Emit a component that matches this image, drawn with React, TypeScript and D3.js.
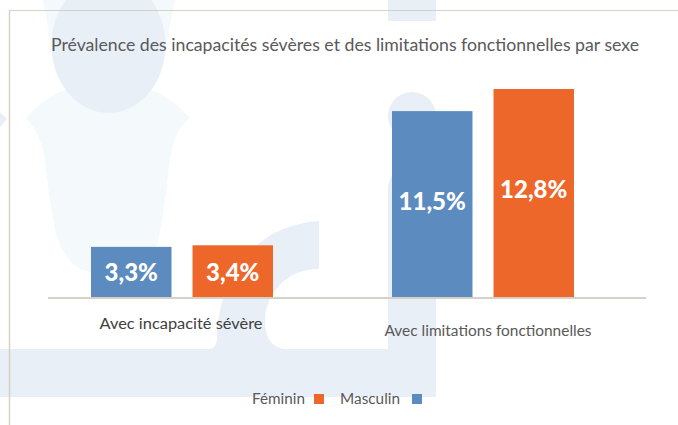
import React from "react";
import * as d3 from "d3";

const categories = ["Avec incapacité sévère", "Avec limitations fonctionnelles"];
const seriesNames = ["Masculin", "Féminin"];
const masculin = [3.3, 11.5];
const feminin = [3.4, 12.8];
const valueLabels = [["3,3%", "11,5%"], ["3,4%", "12,8%"]];
const title = "Prévalence des incapacités sévères et des limitations fonctionnelles par sexe";

const BLUE = "#5b8bbf";
const ORANGE = "#ed672a";
const HEAD = "#e9eff7";
const BODY = "#f4f9fc";
const LINE = "#d5d1c7";
const TEXT = "#595959";
const FONT = "Lato, 'Open Sans', sans-serif";

const W = 678, H = 425;
const baseY = 297;

const x0 = d3.scaleBand<string>().domain(categories).range([31.5, 633.5]).padding(0);
const x1 = d3.scaleBand<string>().domain(seriesNames).range([0, 182]).paddingInner(0.207).paddingOuter(0);
const y = d3.scalePow().exponent(1.05).domain([0, 12.8]).range([baseY, 89]);

const values = [masculin, feminin];
const colors = [BLUE, ORANGE];

const curve = d3.line<[number, number]>().curve(d3.curveCatmullRom.alpha(0.5));

const bodyLeft: [number, number][] = [[26, 118], [34, 128], [43, 150], [50, 200], [60, 245], [76, 266], [98, 274]];
const bodyRight: [number, number][] = [[130, 274], [150, 262], [157, 245], [165, 200], [172, 150], [180, 128], [190, 118]];
const bodyTop: [number, number][] = [[190, 118], [170, 100], [140, 86], [108, 82], [76, 86], [46, 100], [26, 118]];
const bodyPath = curve(bodyLeft) + "L" + (curve(bodyRight) as string).slice(1) + "L" + (curve(bodyTop) as string).slice(1) + "Z";

export default function App() {
  return (
    <svg width={W} height={H} viewBox={`0 0 ${W} ${H}`} style={{ position: "absolute", left: 0, top: 0, background: "#fff" }}>
      {/* watermark */}
      <path d="M43,0 L175,0 L165,50 L52,50 Z" fill={BODY} />
      <path d={bodyPath} fill={BODY} />
      <ellipse cx={108.5} cy={45} rx={57} ry={68} fill={HEAD} />
      <path d="M0,112 L7,119 L0,127 Z" fill={HEAD} />
      <rect x={388} y={0} width={48} height={21} fill={HEAD} />
      <circle cx={412} cy={116} r={24} fill={HEAD} />
      <path d="M388,189 A24,24 0 0 1 436,189 L436,397 L0,397 L0,349 L207,349 Q217,349 217,339 C217,290 245,226 319,221 L319,269 C285,269 265,295 265,322 C265,340 275,349 285,349 L388,349 Z" fill={HEAD} />

      <line x1={9} y1={10.5} x2={678} y2={10.5} stroke={LINE} strokeWidth={1.2} />
      <line x1={9.5} y1={10} x2={9.5} y2={425} stroke={LINE} strokeWidth={1.5} />

      <text x={345} y={51} textAnchor="middle" fontFamily={FONT} fontSize={18} fill={TEXT} textLength={588} lengthAdjust="spacingAndGlyphs">{title}</text>

      {seriesNames.map((s, si) => categories.map((c, ci) => {
        const bx = (x0(c) as number) + (x0.bandwidth() - 182) / 2 + (x1(s) as number);
        const v = values[si][ci];
        const ty = y(v);
        return (
          <g key={s + c}>
            <rect x={bx} y={ty} width={x1.bandwidth()} height={baseY - ty} fill={colors[si]} />
            <text x={bx + x1.bandwidth() / 2} y={ci === 0 ? 281 : si === 0 ? 210 : 198} textAnchor="middle" fontFamily={FONT} fontWeight={900} fontSize={24} fill="#fff">{valueLabels[si][ci]}</text>
          </g>
        );
      }))}

      <line x1={48} y1={298} x2={646} y2={298} stroke={LINE} strokeWidth={2} />

      <text x={181} y={329} textAnchor="middle" fontFamily={FONT} fontSize={15.5} fill="#404040" textLength={163} lengthAdjust="spacingAndGlyphs">{categories[0]}</text>
      <text x={488} y={336} textAnchor="middle" fontFamily={FONT} fontSize={15.5} fill={TEXT} textLength={207} lengthAdjust="spacingAndGlyphs">{categories[1]}</text>

      <text x={252} y={404} fontFamily={FONT} fontSize={15.5} fill={TEXT} textLength={53} lengthAdjust="spacingAndGlyphs">{seriesNames[1]}</text>
      <rect x={314} y={394} width={10} height={10} fill={ORANGE} />
      <text x={340} y={404} fontFamily={FONT} fontSize={15.5} fill={TEXT} textLength={60} lengthAdjust="spacingAndGlyphs">{seriesNames[0]}</text>
      <rect x={412} y={394} width={10} height={10} fill={BLUE} />
    </svg>
  );
}
